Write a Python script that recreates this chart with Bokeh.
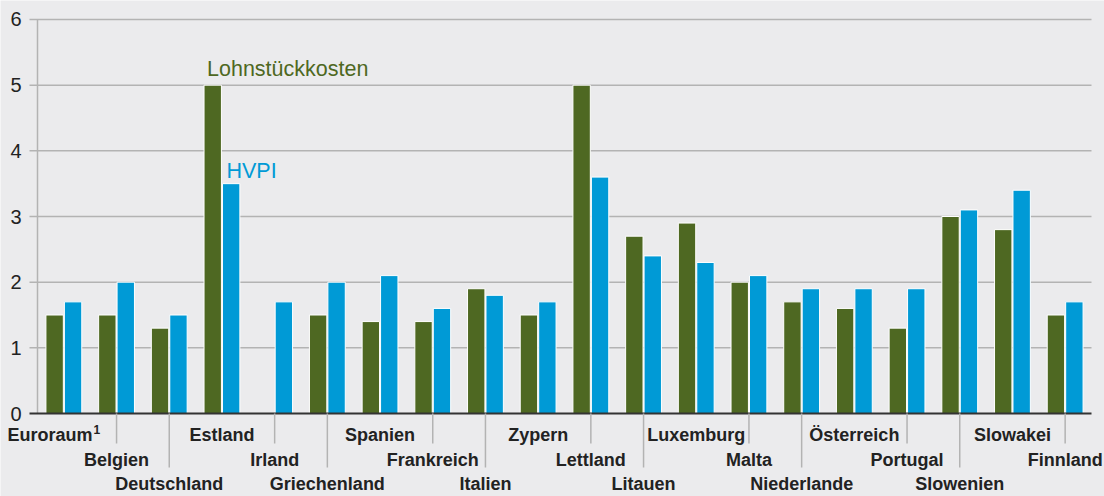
from bokeh.plotting import figure
from bokeh.models import Range1d
from bokeh.embed import file_html
from bokeh.resources import INLINE
from bokeh.core.properties import value

# ---- data ----
countries = ["Euroraum", "Belgien", "Deutschland", "Estland", "Irland", "Griechenland",
             "Spanien", "Frankreich", "Italien", "Zypern", "Lettland", "Litauen",
             "Luxemburg", "Malta", "Niederlande", "Österreich", "Portugal", "Slowenien",
             "Slowakei", "Finnland"]
footnote_marks = ["1"] + [""] * 19
lohnstueckkosten = [1.5, 1.5, 1.3, 5.0, None, 1.5, 1.4, 1.4, 1.9, 1.5, 5.0, 2.7,
                    2.9, 2.0, 1.7, 1.6, 1.3, 3.0, 2.8, 1.5]
hvpi = [1.7, 2.0, 1.5, 3.5, 1.7, 2.0, 2.1, 1.6, 1.8, 1.7, 3.6, 2.4,
        2.3, 2.1, 1.9, 1.9, 1.9, 3.1, 3.4, 1.7]
label_rows = [1, 2, 3] * 6 + [1, 2]
y_ticks = [0, 1, 2, 3, 4, 5, 6]
series_names = ["Lohnstückkosten", "HVPI"]

# ---- style ----
BG = "#ebebed"
GREEN = "#4e6822"
BLUE = "#009ad6"
GRID = "#b3b3b3"
TXT = "#222222"
FONT = "Liberation Sans"
COMP = 0.38      # baseline compensation (em)

PX_X = 52.7      # px per category
PX_Y = 65.667    # px per unit
W, H = 1104, 496
LEFT, TOP, BOTTOM = 37, 19, 83

p = figure(width=W, height=H, output_backend="svg", toolbar_location=None,
           x_range=Range1d(-LEFT / PX_X, (W - LEFT) / PX_X),
           y_range=Range1d(-BOTTOM / PX_Y, 6 + TOP / PX_Y),
           x_axis_type=None, y_axis_type=None, min_border=0)
p.background_fill_color = BG
p.border_fill_color = BG
p.outline_line_color = None

n = len(countries)
tick_len = 8 / PX_X


def off(size, extra=0):
    return extra - round(COMP * size)


# grid lines and ticks
gt = [t for t in y_ticks if t != 0]
p.segment(x0=[-tick_len] * len(gt), y0=gt, x1=[n] * len(gt), y1=gt,
          line_color=GRID, line_width=1.5)
# y axis line
p.segment(x0=[0], y0=[0], x1=[0], y1=[max(y_ticks)], line_color=GRID, line_width=1.5)

# y tick labels
p.text(x=[-16 / PX_X] * len(y_ticks), y=y_ticks, text=[str(t) for t in y_ticks],
       text_align="right", text_baseline="alphabetic", y_offset=off(20, 8),
       text_font=value(FONT), text_font_size="20px", text_color=TXT)

# bars
BW = 0.33
gx = [i + 0.325 for i, v in enumerate(lohnstueckkosten) if v is not None]
gv = [v for v in lohnstueckkosten if v is not None]
p.vbar(x=gx, top=gv, bottom=0, width=BW, fill_color=GREEN, line_color="white", line_width=1)
bx = [i + 0.675 for i in range(n)]
p.vbar(x=bx, top=hvpi, bottom=0, width=BW, fill_color=BLUE, line_color="white", line_width=1)

# zero line
p.segment(x0=[-tick_len], y0=[0], x1=[n], y1=[0], line_color="#333333", line_width=2)

# leader lines
row_line_end = {2: -30 / PX_Y, 3: -54 / PX_Y}
lx = [i + 0.5 for i in range(n) if label_rows[i] != 1]
ly = [row_line_end[label_rows[i]] for i in range(n) if label_rows[i] != 1]
p.segment(x0=lx, y0=[0] * len(lx), x1=lx, y1=ly, line_color=GRID, line_width=1.5)

# category labels
LS = 18
row_base = {1: -28 / PX_Y, 2: -53 / PX_Y, 3: -77 / PX_Y}
cx, cy, ct = [], [], []
for i, c in enumerate(countries):
    if i == 0:
        continue
    cx.append(i + 0.5)
    cy.append(row_base[label_rows[i]])
    ct.append(c)
p.text(x=cx, y=cy, text=ct, text_align="center", text_baseline="alphabetic", y_offset=off(LS),
       text_font=value(FONT), text_font_style="bold", text_font_size=f"{LS}px", text_color=TXT)
p.text(x=[-30 / PX_X], y=[row_base[label_rows[0]]], text=[countries[0]],
       text_align="left", text_baseline="alphabetic", y_offset=off(LS),
       text_font=value(FONT), text_font_style="bold", text_font_size=f"{LS}px", text_color=TXT)
# footnote mark
p.text(x=[-30 / PX_X], y=[row_base[label_rows[0]]], text=[footnote_marks[0]],
       text_align="left", text_baseline="alphabetic", x_offset=86, y_offset=off(12, -7),
       text_font=value(FONT), text_font_style="bold", text_font_size="12px", text_color=TXT)

# series annotations (at Estland)
k = countries.index("Estland")
p.text(x=[k + 0.16 + 3 / PX_X], y=[lohnstueckkosten[k] + 8 / PX_Y], text=[series_names[0]],
       text_align="left", text_baseline="alphabetic", y_offset=off(21.5),
       text_font=value(FONT), text_font_size="21.5px", text_color=GREEN)
p.text(x=[k + 0.51 + 4 / PX_X], y=[hvpi[k] + 5 / PX_Y], text=[series_names[1]],
       text_align="left", text_baseline="alphabetic", y_offset=off(21.5),
       text_font=value(FONT), text_font_size="21.5px", text_color=BLUE)

open("out.html", "w").write(file_html(p, INLINE))
